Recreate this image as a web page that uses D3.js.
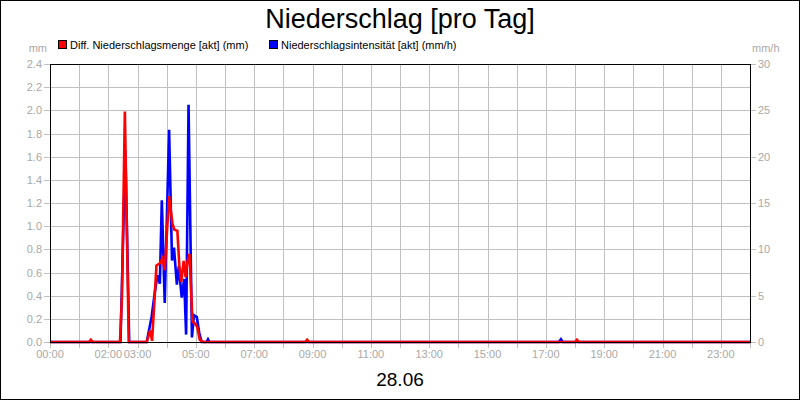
<!DOCTYPE html>
<html>
<head>
<meta charset="utf-8">
<script src="https://cdn.jsdelivr.net/npm/d3@7"></script>
<style>
    body { margin: 0; background: #fff; }
    svg { font-family: "Liberation Sans", Arial, sans-serif; }
    .grid line { stroke: #c0c0c0; stroke-width: 1; shape-rendering: crispEdges; }
    .axisText { fill: #a8a8a8; font-size: 11px; }
</style>
</head>
<body>
<div id="chart"></div>
<script>

// data (times of day, values)
const redTimes = ["00:00", "01:20", "01:24", "01:28", "02:24", "02:28", "02:34", "02:42", "03:19", "03:26",
    "03:30", "03:39", "03:46", "03:51", "03:56", "04:05", "04:12", "04:16", "04:22", "04:26",
    "04:30", "04:35", "04:39", "04:43", "04:47", "04:53", "04:58", "05:03", "05:08", "05:15",
    "08:45", "08:49", "08:53", "18:00", "18:04", "18:08", "24:00"];
const redValues = [0, 0, 0.02, 0, 0, 0.39, 1.99, 0, 0, 0.10,
    0.01, 0.66, 0.68, 0.72, 0.62, 1.26, 1.02, 0.97, 0.96, 0.66,
    0.52, 0.70, 0.56, 0.70, 0.76, 0.18, 0.16, 0.13, 0.02, 0,
    0, 0.02, 0, 0, 0.02, 0, 0];

const blueTimes = ["00:00", "02:25", "02:35", "02:43", "03:19", "03:29", "03:36", "03:41", "03:46", "03:50",
    "03:56", "04:05", "04:11", "04:15", "04:21", "04:25", "04:31", "04:36", "04:40", "04:45",
    "04:52", "04:56", "05:02", "05:07", "05:12", "05:22", "05:25", "05:28", "17:27", "17:31",
    "17:35", "24:00"];
const blueValues = [0, 0, 20.7, 0, 0, 2.7, 5.5, 7.2, 6.3, 15.3,
    4.2, 22.9, 8.8, 10.2, 6.2, 8.2, 4.8, 6.8, 0.8, 25.6,
    0.5, 2.9, 2.7, 1.0, 0, 0, 0.3, 0, 0, 0.3,
    0, 0];

const leftTicks = [0, 0.2, 0.4, 0.6, 0.8, 1.0, 1.2, 1.4, 1.6, 1.8, 2.0, 2.2, 2.4];
const rightTicks = [0, 5, 10, 15, 20, 25, 30];
const hourTicks = d3.range(0, 25);
const hourLabels = ["00:00", "02:00", "03:00", "05:00", "07:00", "09:00", "11:00", "13:00", "15:00", "17:00", "19:00", "21:00", "23:00"];

const titleText = "Niederschlag [pro Tag]";
const dateText = "28.06";
const seriesNames = ["Diff. Niederschlagsmenge [akt] (mm)", "Niederschlagsintensität [akt] (mm/h)"];

function toMinutes(s) {
    let p = s.split(":");
    return (+p[0]) * 60 + (+p[1]);
}

function createSVGViewbox(containerId, width, height) {
    return d3.select(containerId)
        .append('svg')
        .attr('width', width)
        .attr('height', height)
        .attr('viewBox', '0 0 ' + width + ' ' + height);
}

try {

    const W = 800, H = 400;
    const left = 50, right = 750, top = 64, bottom = 342;

    let svg = createSVGViewbox('#chart', W, H);

    svg.append('rect')
        .attr('x', 0.5).attr('y', 0.5)
        .attr('width', W - 1).attr('height', H - 1)
        .attr('fill', '#fff').attr('stroke', '#000');

    let x = d3.scaleLinear().domain([0, 1440]).range([left, right]);
    let yL = d3.scaleLinear().domain([0, 2.4]).range([bottom, top]);
    let yR = d3.scaleLinear().domain([0, 30]).range([bottom, top]);

    // grid
    let grid = svg.append('g').attr('class', 'grid');
    grid.selectAll('.h').data(leftTicks).enter()
        .append('line')
        .attr('x1', left).attr('x2', right)
        .attr('y1', d => Math.round(yL(d)) + 0.5).attr('y2', d => Math.round(yL(d)) + 0.5);
    grid.selectAll('.v').data(hourTicks).enter()
        .append('line')
        .attr('x1', d => Math.round(x(d * 60)) + 0.5).attr('x2', d => Math.round(x(d * 60)) + 0.5)
        .attr('y1', top).attr('y2', bottom);

    // x ticks below axis
    svg.append('g').attr('class', 'grid').selectAll('line').data(hourTicks).enter()
        .append('line')
        .attr('x1', d => Math.round(x(d * 60)) + 0.5).attr('x2', d => Math.round(x(d * 60)) + 0.5)
        .attr('y1', bottom).attr('y2', bottom + 6);

    svg.append('g').selectAll('text').data(hourLabels).enter()
        .append('text')
        .attr('class', 'axisText')
        .attr('x', d => x(toMinutes(d)))
        .attr('y', bottom + 16)
        .attr('text-anchor', 'middle')
        .text(d => d);

    // left axis
    svg.append('g').attr('class', 'grid').selectAll('line').data(leftTicks).enter()
        .append('line')
        .attr('x1', left - 6).attr('x2', left)
        .attr('y1', d => Math.round(yL(d)) + 0.5).attr('y2', d => Math.round(yL(d)) + 0.5);
    svg.append('g').selectAll('text').data(leftTicks).enter()
        .append('text')
        .attr('class', 'axisText')
        .attr('x', left - 8)
        .attr('y', d => yL(d) + 4)
        .attr('text-anchor', 'end')
        .text(d => d3.format('.1f')(d));
    svg.append('text').attr('class', 'axisText')
        .attr('x', 47).attr('y', 52).attr('text-anchor', 'end').text('mm');

    // right axis
    svg.append('g').attr('class', 'grid').selectAll('line').data(rightTicks).enter()
        .append('line')
        .attr('x1', right).attr('x2', right + 6)
        .attr('y1', d => Math.round(yR(d)) + 0.5).attr('y2', d => Math.round(yR(d)) + 0.5);
    svg.append('g').selectAll('text').data(rightTicks).enter()
        .append('text')
        .attr('class', 'axisText')
        .attr('x', right + 8)
        .attr('y', d => yR(d) + 4)
        .text(d => d);
    svg.append('text').attr('class', 'axisText')
        .attr('x', 752).attr('y', 52).text('mm/h');

    // series
    let blueData = blueTimes.map((t, i) => [toMinutes(t), blueValues[i]]);
    let redData = redTimes.map((t, i) => [toMinutes(t), redValues[i]]);

    let lineR = d3.line().x(d => x(d[0])).y(d => yR(d[1]));
    let lineL = d3.line().x(d => x(d[0])).y(d => yL(d[1]));

    svg.append('path').datum(blueData)
        .attr('d', lineR)
        .attr('fill', 'none').attr('stroke', '#0000ff')
        .attr('stroke-width', 2.6).attr('stroke-linejoin', 'miter');

    svg.append('path').datum(redData)
        .attr('d', lineL)
        .attr('fill', 'none').attr('stroke', '#ff0000')
        .attr('stroke-width', 2.6).attr('stroke-linejoin', 'miter');

    // plot frame
    svg.append('rect')
        .attr('x', left + 0.5).attr('y', top + 0.5)
        .attr('width', right - left).attr('height', bottom - top)
        .attr('fill', 'none').attr('stroke', '#000')
        .attr('shape-rendering', 'crispEdges');

    // title and date
    svg.append('text')
        .attr('x', 400).attr('y', 28)
        .attr('text-anchor', 'middle')
        .attr('font-size', '27px')
        .text(titleText);

    svg.append('text')
        .attr('x', 400).attr('y', 386)
        .attr('text-anchor', 'middle')
        .attr('font-size', '19px')
        .text(dateText);

    // legend
    let legendX = [58, 269];
    let legendColors = ['#ff0000', '#0000ff'];
    let legend = svg.append('g').selectAll('g').data(seriesNames).enter().append('g');
    legend.append('rect')
        .attr('x', (d, i) => legendX[i] + 0.5).attr('y', 40.5)
        .attr('width', 8).attr('height', 8)
        .attr('fill', (d, i) => legendColors[i])
        .attr('stroke', '#000');
    legend.append('text')
        .attr('x', (d, i) => legendX[i] + 12)
        .attr('y', 49)
        .attr('font-size', '11px')
        .text(d => d);

} catch (error) {
    console.log('Chart error: ' + error);
}

</script>
</body>
</html>
